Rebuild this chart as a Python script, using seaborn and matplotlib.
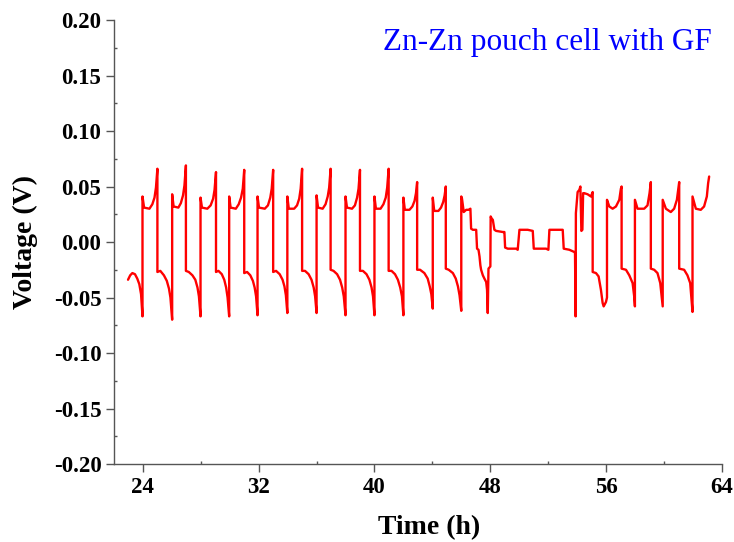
import matplotlib
matplotlib.use('Agg')
import matplotlib.pyplot as plt
import pandas as pd
import seaborn as sns
from matplotlib.ticker import MultipleLocator, FormatStrFormatter

# Regular cycling, 23-46 h (time in h, voltage in V)
early_t = [
    22.97, 23.12, 23.27, 23.45, 23.61, 23.75, 23.87, 23.97,
    23.97, 24.08, 24.45, 24.65, 24.80, 24.90, 25.00,
    25.00, 25.20, 25.45, 25.65, 25.80, 25.90, 26.02,
    26.02, 26.12, 26.45, 26.62, 26.77, 26.87, 26.97,
    26.97, 27.17, 27.42, 27.62, 27.77, 27.87, 27.98,
    27.98, 28.08, 28.45, 28.68, 28.85, 28.95, 29.05,
    29.05, 29.22, 29.45, 29.62, 29.75, 29.85, 29.96,
    29.96, 30.06, 30.42, 30.62, 30.78, 30.90, 31.00,
    31.00, 31.20, 31.42, 31.60, 31.72, 31.82, 31.92,
    31.92, 32.02, 32.42, 32.64, 32.80, 32.90, 33.00,
    33.00, 33.20, 33.45, 33.65, 33.78, 33.88, 33.98,
    33.98, 34.08, 34.45, 34.65, 34.80, 34.90, 35.00,
    35.00, 35.20, 35.45, 35.65, 35.80, 35.90, 36.00,
    36.00, 36.10, 36.42, 36.62, 36.77, 36.87, 36.97,
    36.97, 37.17, 37.42, 37.62, 37.77, 37.88, 38.00,
    38.00, 38.10, 38.45, 38.65, 38.80, 38.90, 39.00,
    39.00, 39.20, 39.45, 39.65, 39.80, 39.90, 40.00,
    40.00, 40.10, 40.42, 40.62, 40.78, 40.88, 40.98,
    40.98, 41.18, 41.42, 41.62, 41.78, 41.90, 42.00,
    42.00, 42.10, 42.42, 42.62, 42.77, 42.87, 42.95,
    42.95, 43.15, 43.45, 43.68, 43.82, 43.93, 44.03,
    44.03, 44.13, 44.42, 44.60, 44.75, 44.85, 44.93,
    44.93, 45.13, 45.42, 45.62, 45.77, 45.88, 46.00,
]
early_v = [
    -0.034, -0.030, -0.028, -0.029, -0.033, -0.038, -0.047, -0.067,
    0.041, 0.031, 0.030, 0.034, 0.040, 0.049, 0.066,
    -0.027, -0.026, -0.030, -0.035, -0.042, -0.050, -0.070,
    0.043, 0.032, 0.031, 0.035, 0.042, 0.051, 0.069,
    -0.026, -0.027, -0.030, -0.034, -0.041, -0.049, -0.067,
    0.040, 0.031, 0.030, 0.033, 0.039, 0.047, 0.063,
    -0.027, -0.026, -0.029, -0.034, -0.041, -0.050, -0.067,
    0.041, 0.031, 0.030, 0.034, 0.040, 0.048, 0.065,
    -0.028, -0.027, -0.030, -0.035, -0.041, -0.049, -0.066,
    0.041, 0.031, 0.030, 0.033, 0.040, 0.048, 0.065,
    -0.027, -0.026, -0.029, -0.034, -0.040, -0.048, -0.064,
    0.041, 0.030, 0.030, 0.033, 0.039, 0.048, 0.066,
    -0.026, -0.026, -0.029, -0.034, -0.041, -0.049, -0.064,
    0.042, 0.031, 0.030, 0.034, 0.041, 0.049, 0.066,
    -0.025, -0.026, -0.029, -0.034, -0.041, -0.049, -0.066,
    0.041, 0.031, 0.030, 0.033, 0.040, 0.048, 0.065,
    -0.026, -0.026, -0.029, -0.034, -0.041, -0.049, -0.066,
    0.041, 0.030, 0.030, 0.034, 0.040, 0.049, 0.066,
    -0.026, -0.026, -0.029, -0.034, -0.041, -0.049, -0.066,
    0.040, 0.029, 0.029, 0.032, 0.037, 0.044, 0.054,
    -0.025, -0.025, -0.028, -0.033, -0.040, -0.047, -0.060,
    0.040, 0.028, 0.028, 0.031, 0.036, 0.042, 0.050,
    -0.024, -0.025, -0.028, -0.033, -0.040, -0.048, -0.062,
]

# Unstable part with small steps, 46-54 h
mid_t = [
    46.00, 46.05, 46.17, 46.34, 46.50, 46.63, 46.68, 46.80, 47.03, 47.09,
    47.19, 47.26, 47.32, 47.37, 47.49, 47.60, 47.72, 47.78, 47.83, 47.88,
    48.01, 48.03, 48.11, 48.18, 48.29, 48.41, 48.87, 48.98, 49.03, 49.21,
    49.79, 49.90, 50.02, 50.59, 50.94, 51.01, 51.86, 52.02, 52.09, 52.43,
    53.01, 53.08, 53.47, 53.81, 53.86, 53.90,
]
mid_v = [
    0.041, 0.039, 0.027, 0.029, 0.029, 0.030, 0.012, 0.011, 0.011, -0.006,
    -0.007, -0.013, -0.021, -0.025, -0.030, -0.033, -0.036, -0.043, -0.064, -0.024,
    -0.022, 0.023, 0.021, 0.020, 0.011, 0.010, 0.009, 0.009, -0.005, -0.006,
    -0.006, -0.007, 0.011, 0.011, 0.010, -0.006, -0.006, -0.007, 0.011, 0.011,
    0.011, -0.006, -0.007, -0.009, -0.010, -0.067,
]

# Cycling again, 54-63 h
late_t = [
    53.92, 54.04, 54.16, 54.23, 54.30, 54.37, 54.42, 54.50, 54.73, 54.96, 55.08,
    55.08, 55.31, 55.49, 55.65, 55.77, 55.84, 56.00, 56.07,
    56.07, 56.23, 56.46, 56.69, 56.92, 57.03, 57.08,
    57.08, 57.38, 57.61, 57.84, 57.95, 58.00,
    58.00, 58.18, 58.64, 58.87, 59.01, 59.10,
    59.10, 59.33, 59.56, 59.75, 59.92,
    59.92, 60.14, 60.48, 60.71, 60.90, 61.06,
    61.06, 61.40, 61.63, 61.82, 61.98,
    61.98, 62.21, 62.55, 62.78, 62.97, 63.06, 63.13,
]
late_v = [
    0.026, 0.045, 0.047, 0.050, 0.010, 0.011, 0.044, 0.044, 0.043, 0.041, 0.045,
    -0.027, -0.028, -0.031, -0.043, -0.055, -0.058, -0.054, -0.050,
    0.038, 0.032, 0.030, 0.032, 0.038, 0.048, 0.050,
    -0.024, -0.025, -0.030, -0.037, -0.049, -0.058,
    0.038, 0.030, 0.030, 0.033, 0.044, 0.054,
    -0.024, -0.025, -0.028, -0.037, -0.058,
    0.038, 0.030, 0.027, 0.030, 0.038, 0.054,
    -0.024, -0.025, -0.030, -0.037, -0.063,
    0.041, 0.030, 0.029, 0.032, 0.041, 0.053, 0.059,
]

x_ticks = [24, 32, 40, 48, 56, 64]

df = pd.DataFrame({
    'time': early_t + mid_t + late_t,
    'voltage': early_v + mid_v + late_v,
})

sns.set_style('ticks')
plt.rcParams['font.family'] = ['Liberation Serif', 'DejaVu Serif']
plt.rcParams['font.weight'] = 'bold'
plt.rcParams['text.color'] = 'black'
plt.rcParams['axes.labelcolor'] = 'black'

fig = plt.figure(figsize=(7.34, 5.42), dpi=100)
ax = fig.add_axes([0.1553, 0.1439, 0.828, 0.8192])

sns.lineplot(data=df, x='time', y='voltage', sort=False, estimator=None,
             color='red', linewidth=1.7, ax=ax)

ax.set_xlim(22, 64)
ax.set_ylim(-0.2, 0.2)
ax.set_xticks(x_ticks)
ax.xaxis.set_minor_locator(MultipleLocator(4))
ax.yaxis.set_major_locator(MultipleLocator(0.05))
ax.yaxis.set_minor_locator(MultipleLocator(0.025))
ax.yaxis.set_major_formatter(FormatStrFormatter('%.2f'))

sns.despine(ax=ax)
for side in ['left', 'bottom']:
    ax.spines[side].set_color('#555555')
    ax.spines[side].set_linewidth(1.0)

ax.tick_params(which='major', direction='out', length=6, width=1,
               color='#555555', labelsize=16.5, pad=3, labelcolor='black')
ax.tick_params(which='minor', direction='in', length=2.5, width=1,
               color='#555555')

ax.set_xlabel('Time (h)', fontsize=20, fontweight='bold', color='black')
ax.set_ylabel('Voltage (V)', fontsize=20, fontweight='bold', color='black')
ax.xaxis.set_label_coords(0.518, -0.115)
ax.yaxis.set_label_coords(-0.125, 0.5)

ax.text(0.984, 0.932, 'Zn-Zn pouch cell with GF', transform=ax.transAxes,
        ha='right', va='baseline', color='blue', fontsize=22.5,
        fontweight='normal')

fig.savefig('out.png', dpi=100)
